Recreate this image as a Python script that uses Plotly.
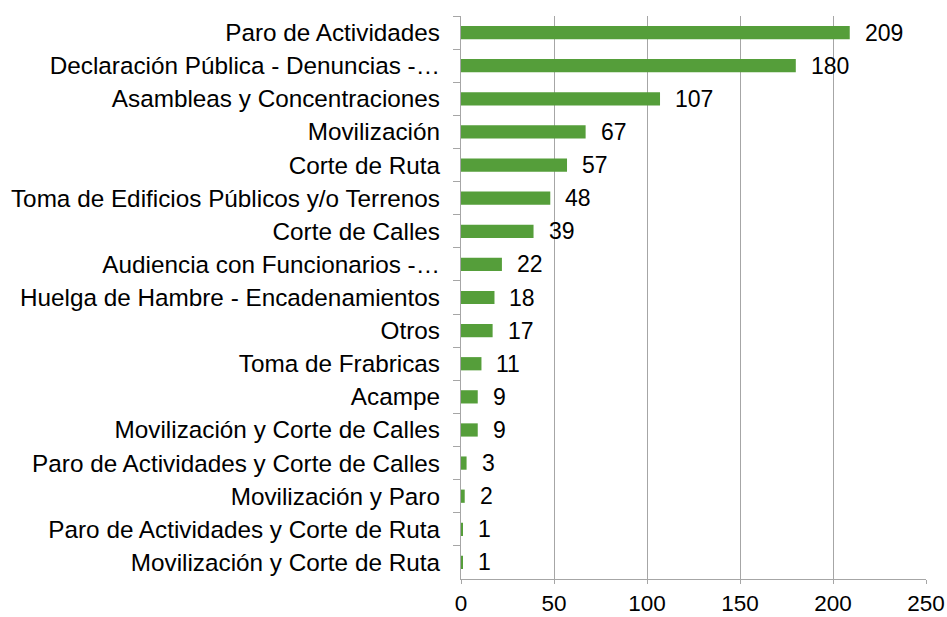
import plotly.graph_objects as go

categories = [
    "Paro de Actividades",
    "Declaración Pública - Denuncias -…",
    "Asambleas y Concentraciones",
    "Movilización",
    "Corte de Ruta",
    "Toma de Edificios Públicos y/o Terrenos",
    "Corte de Calles",
    "Audiencia con Funcionarios -…",
    "Huelga de Hambre - Encadenamientos",
    "Otros",
    "Toma de Frabricas",
    "Acampe",
    "Movilización y Corte de Calles",
    "Paro de Actividades y Corte de Calles",
    "Movilización y Paro",
    "Paro de Actividades y Corte de Ruta",
    "Movilización y Corte de Ruta",
]
values = [209, 180, 107, 67, 57, 48, 39, 22, 18, 17, 11, 9, 9, 3, 2, 1, 1]
x_ticks = [0, 50, 100, 150, 200, 250]

FONT = "Liberation Sans, Arial, sans-serif"
GREEN = "#559e3a"
GRAY = "#a6a6a6"

fig = go.Figure()
fig.add_trace(go.Bar(
    x=values, y=categories, orientation="h",
    marker=dict(color=GREEN, line=dict(width=0)),
    width=0.4,
    hoverinfo="x+y",
))

for c, v in zip(categories, values):
    fig.add_annotation(x=v, y=c, text=str(v), showarrow=False,
                       xanchor="left", yanchor="middle", xshift=13,
                       font=dict(family=FONT, size=23, color="#000000"))

fig.update_layout(
    width=947, height=617,
    margin=dict(l=461, r=21, t=16, b=38, autoexpand=False),
    paper_bgcolor="white", plot_bgcolor="white",
    showlegend=False,
    font=dict(family=FONT, size=23, color="#000000"),
    bargap=0.6,
)
fig.update_xaxes(
    range=[0, 250], tickvals=x_ticks, ticktext=[str(t) for t in x_ticks],
    showgrid=True, gridcolor=GRAY, gridwidth=1.3,
    showline=True, linecolor=GRAY, linewidth=1.3,
    ticks="outside", ticklen=4, tickcolor=GRAY, tickwidth=1.3,
    zeroline=False, ticklabelstandoff=0,
    tickfont=dict(family=FONT, size=22.5, color="#000000"),
)
fig.update_yaxes(
    autorange="reversed",
    showgrid=False, showline=True, linecolor=GRAY, linewidth=1.3,
    ticks="outside", ticklen=7, tickcolor=GRAY, tickwidth=1.3,
    tickson="boundaries", ticklabelstandoff=15,
    tickfont=dict(family=FONT, size=24.3, color="#000000"),
)

fig.write_html(
    "out.html",
    config={"displayModeBar": False},
    post_script="document.body.style.margin='0px';document.body.style.overflow='hidden';",
)
